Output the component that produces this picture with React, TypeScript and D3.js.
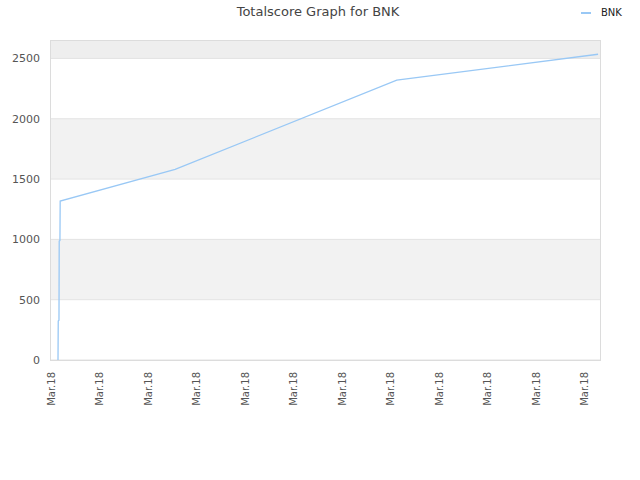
import React from "react";
import * as d3 from "d3";

const title = "Totalscore Graph for BNK";
const seriesName = "BNK";
const times = [1.65, 1.7, 1.85, 1.9, 2.05, 2.1, 25.8, 71.5, 113];
const scores = [0, 323, 330, 986, 990, 1318, 1580, 2320, 2535];
const xTickValues = [0.2, 10.2, 20.2, 30.2, 40.2, 50.2, 60.2, 70.2, 80.2, 90.2, 100.2, 110.2];
const xTickLabel = "Mar.18";
const yTickValues = [0, 500, 1000, 1500, 2000, 2500];

export default function App() {
  const W = 640, H = 480;
  const left = 50, right = 600, top = 40, bottom = 360;
  const x = d3.scaleLinear().domain([0, 113.4]).range([left, right]);
  const y = d3.scaleLinear().domain([0, 2653]).range([bottom, top]);
  const pts = times.map((t, i) => [t, scores[i]] as [number, number]);
  const line = d3.line<[number, number]>().x(d => x(d[0])).y(d => y(d[1]));
  const bands: [number, number, string][] = [];
  const edges = [...yTickValues, 2653];
  for (let i = 0; i < edges.length - 1; i++) {
    if (i % 2 === 1) bands.push([edges[i], edges[i + 1], i === edges.length - 2 ? "#eeeeee" : "#f2f2f2"]);
  }
  return (
    <svg width={W} height={H} style={{ display: "block", position: "absolute", left: 0, top: 0 }} fontFamily="DejaVu Sans, sans-serif">
      <rect x={0} y={0} width={W} height={H} fill="#fff" />
      <text x={318} y={16} textAnchor="middle" fontSize={13} fill="#444">{title}</text>
      <line x1={581} x2={591} y1={13} y2={13} stroke="#99c8f5" strokeWidth={2} />
      <text x={601} y={16} fontSize={10} fill="#222">{seriesName}</text>
      {bands.map(([a, b, c], i) => (
        <rect key={i} x={left} width={right - left} y={y(b)} height={y(a) - y(b)} fill={c} />
      ))}
      {yTickValues.map(v => (
        <g key={v}>
          <line x1={left} x2={right} y1={y(v)} y2={y(v)} stroke="#e3e3e3" />
          <text x={40} y={y(v) + 4} textAnchor="end" fontSize={11} fill="#555">{v}</text>
        </g>
      ))}
      <rect x={left + 0.5} y={top + 0.5} width={right - left} height={bottom - top} fill="none" stroke="#dcdcdc" />
      {xTickValues.map((t, i) => (
        <text key={i} transform={`translate(${x(t) + 4},${372}) rotate(-90)`} textAnchor="end" fontSize={10} fill="#555">{xTickLabel}</text>
      ))}
      <path d={line(pts) || ""} fill="none" stroke="#99c8f5" strokeWidth={1.3} />
    </svg>
  );
}
